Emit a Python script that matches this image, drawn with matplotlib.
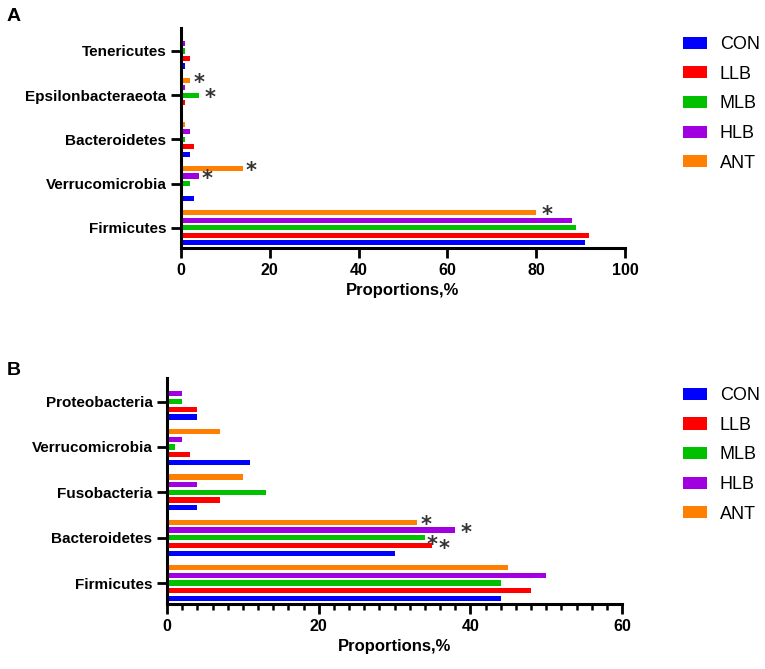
import matplotlib.pyplot as plt
from matplotlib.patches import Patch
from matplotlib.ticker import MultipleLocator

plt.rcParams['font.family'] = ['Liberation Sans', 'DejaVu Sans']

groups = ['CON', 'LLB', 'MLB', 'HLB', 'ANT']
colors = ['#0000FF', '#FF0000', '#00C000', '#A000E0', '#FF8000']

# panel A
phyla_a = ['Firmicutes', 'Verrucomicrobia', 'Bacteroidetes', 'Epsilonbacteraeota', 'Tenericutes']
values_a = {
    'CON': [91, 3, 2, 0, 1],
    'LLB': [92, 0, 3, 1, 2],
    'MLB': [89, 2, 1, 4, 1],
    'HLB': [88, 4, 2, 1, 1],
    'ANT': [80, 14, 1, 2, 0],
}
# (phylum index, group) marked significant
stars_a = [(0, 'ANT'), (1, 'ANT'), (1, 'HLB'), (3, 'ANT'), (3, 'MLB')]

# panel B
phyla_b = ['Firmicutes', 'Bacteroidetes', 'Fusobacteria', 'Verrucomicrobia', 'Proteobacteria']
values_b = {
    'CON': [44, 30, 4, 11, 4],
    'LLB': [48, 35, 7, 3, 4],
    'MLB': [44, 34, 13, 1, 2],
    'HLB': [50, 38, 4, 2, 2],
    'ANT': [45, 33, 10, 7, 0],
}
stars_b = [(1, 'ANT'), (1, 'HLB'), (1, 'MLB'), (1, 'LLB')]

step = 0.17
bar_h = 0.115

fig = plt.figure(figsize=(7.65, 6.69), dpi=100)
ax_a = fig.add_axes([0.2366, 0.6293, 0.5804, 0.3288])
ax_b = fig.add_axes([0.2183, 0.0972, 0.5948, 0.3378])


def draw_panel(ax, phyla, values, stars, xmax, xstep, minor, star_off):
    for k, g in enumerate(groups):
        pos = [i + (k - 2) * step for i in range(len(phyla))]
        ax.barh(pos, values[g], height=bar_h, color=colors[k], edgecolor='none')
    # asterisks, offsets in points
    for i, g in stars:
        k = groups.index(g)
        dx, dy = star_off.get((i, g), (6, -2))
        ax.annotate('*', xy=(values[g][i], i + (k - 2) * step), xytext=(dx, dy),
                    textcoords='offset points', fontsize=15, color='#333333',
                    family='DejaVu Sans', fontweight='bold', ha='center', va='center')
    ax.set_yticks(range(len(phyla)))
    ax.set_yticklabels(phyla, fontweight='bold', fontsize=11)
    ax.set_xlim(0, xmax)
    ax.set_ylim(-0.46, len(phyla) - 0.48)
    ax.xaxis.set_major_locator(MultipleLocator(xstep))
    for lbl in ax.get_xticklabels():
        lbl.set_fontweight('bold')
        lbl.set_fontsize(11.5)
    if minor:
        ax.xaxis.set_minor_locator(MultipleLocator(minor))
        ax.tick_params(axis='x', which='minor', length=4, width=1.8)
    ax.tick_params(axis='both', which='major', length=7, width=2, color='black')
    ax.spines['top'].set_visible(False)
    ax.spines['right'].set_visible(False)
    ax.spines['left'].set_linewidth(2.2)
    ax.spines['bottom'].set_linewidth(2.2)
    ax.set_xlabel('Proportions,%', fontweight='bold', fontsize=12, labelpad=4)


draw_panel(ax_a, phyla_a, values_a, stars_a, 100, 20, None,
           {(0, 'ANT'): (8, -2), (3, 'MLB'): (8, -2), (3, 'ANT'): (6.5, -2)})
draw_panel(ax_b, phyla_b, values_b, stars_b, 60, 20, 2,
           {(1, 'ANT'): (6.5, -2), (1, 'HLB'): (8, -2),
            (1, 'MLB'): (5.5, -5), (1, 'LLB'): (8.5, -2.5)})

handles = [Patch(facecolor=c, edgecolor='none') for c in colors]
for ypos in (0.957, 0.432):
    fig.legend(handles, groups, loc='upper left', bbox_to_anchor=(0.883, ypos),
               frameon=False, fontsize=13, handlelength=1.35, handleheight=0.65,
               handletextpad=0.7, labelspacing=0.7, borderaxespad=0)

fig.text(0.009, 0.968, 'A', fontsize=14, fontweight='bold')
fig.text(0.009, 0.44, 'B', fontsize=14, fontweight='bold')

plt.savefig('out.png', dpi=100)
